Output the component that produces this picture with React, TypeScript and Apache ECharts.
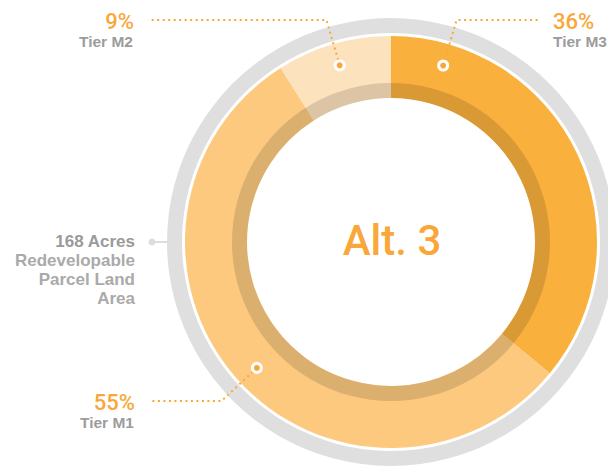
import React, { useEffect, useRef } from "react";
import * as echarts from "echarts";

// ---- data ----
const categories = ["Tier M3", "Tier M1", "Tier M2"];
const shares = [36, 55, 9];
const sliceColors = ["#FAB03D", "#FCC97F", "#FDE2BE"];
const centerTitle = "Alt. 3";
const acreageLines = ["168 Acres", "Redevelopable", "Parcel Land", "Area"];

// ---- layout ----
const W = 608;
const H = 468;
const CX = 391;
const CY = 242;
const R_RING: [number, number] = [209, 224];
const R_MAIN: [number, number] = [144, 206];
const R_SHADE: [number, number] = [144, 159];
const DOT_R = 184;
const anchorPos = [0.127, 0.491, 0.5];
const labelY = [20, 401, 20];
const labelX = [553, 135, 134];
const labelSide = ["right", "left", "left"];

const ORANGE = "#F9A73B";
const HEAD_FONT = "Roboto, 'Liberation Sans', Arial, sans-serif";
const LABEL_FONT = "'Liberation Sans', Arial, sans-serif";

function buildGraphics() {
  const total = shares.reduce((a, b) => a + b, 0);
  const els: any[] = [];
  let cum = 0;
  shares.forEach((v, i) => {
    const deg = ((cum + v * anchorPos[i]) / total) * 360;
    cum += v;
    const a = (deg * Math.PI) / 180;
    const sx = Math.sin(a);
    const cy = -Math.cos(a);
    const dx = CX + DOT_R * sx;
    const dy = CY + DOT_R * cy;
    const ly = labelY[i];
    const t = (ly - dy) / cy;
    const ex = dx + t * sx;
    const right = labelSide[i] === "right";
    const endX = right ? labelX[i] - 15 : labelX[i] + 14;
    els.push({
      type: "polyline",
      z: 10,
      silent: true,
      shape: { points: [[dx, dy], [ex, ly], [endX, ly]] },
      style: { stroke: ORANGE, lineWidth: 2, lineDash: [2, 3.5], fill: null },
    });
    els.push({
      type: "circle",
      z: 11,
      silent: true,
      shape: { cx: dx, cy: dy, r: 4.5 },
      style: { fill: ORANGE, stroke: "#ffffff", lineWidth: 3 },
    });
    const align = right ? "left" : "right";
    els.push({
      type: "text",
      z: 11,
      silent: true,
      x: labelX[i],
      y: ly + 1,
      style: {
        text: `${v}%`,
        fill: ORANGE,
        fontSize: 22,
        fontWeight: 500,
        fontFamily: HEAD_FONT,
        align,
        textAlign: align,
        verticalAlign: "middle",
        textVerticalAlign: "middle",
      },
    });
    els.push({
      type: "text",
      z: 11,
      silent: true,
      x: right ? labelX[i] : labelX[i] - 1,
      y: ly + 21,
      style: {
        text: categories[i],
        fill: "#9C9C9C",
        fontSize: 15.5,
        fontWeight: "bold",
        fontFamily: LABEL_FONT,
        align,
        textAlign: align,
        verticalAlign: "middle",
        textVerticalAlign: "middle",
      },
    });
  });

  // centre title
  els.push({
    type: "text",
    z: 11,
    silent: true,
    x: CX + 1,
    y: CY - 2,
    style: {
      text: centerTitle,
      fill: ORANGE,
      fontSize: 42,
      fontWeight: 500,
      fontFamily: HEAD_FONT,
      align: "center",
      textAlign: "center",
      verticalAlign: "middle",
      textVerticalAlign: "middle",
    },
  });

  // acreage note on the left
  const noteY = CY - 1;
  els.push({
    type: "line",
    z: 10,
    silent: true,
    shape: { x1: 152, y1: CY, x2: CX - R_RING[1] + 1, y2: CY },
    style: { stroke: "#DDDDDD", lineWidth: 2 },
  });
  els.push({
    type: "circle",
    z: 10,
    silent: true,
    shape: { cx: 152, cy: CY, r: 3.5 },
    style: { fill: "#DDDDDD" },
  });
  acreageLines.forEach((line, j) => {
    els.push({
      type: "text",
      z: 11,
      silent: true,
      x: 135,
      y: noteY + j * 19,
      style: {
        text: line,
        fill: j === 0 ? "#9A9A9A" : "#AAAAAA",
        fontSize: 17,
        fontWeight: "bold",
        fontFamily: LABEL_FONT,
        align: "right",
        textAlign: "right",
        verticalAlign: "middle",
        textVerticalAlign: "middle",
      },
    });
  });
  return els;
}

export default function App() {
  const ref = useRef<HTMLDivElement>(null);
  useEffect(() => {
    if (!ref.current) return;
    const chart = echarts.init(ref.current, undefined, { renderer: "svg" });
    chart.setOption({
      animation: false,
      backgroundColor: "#ffffff",
      series: [
        {
          type: "pie",
          silent: true,
          center: [CX, CY],
          radius: R_RING,
          label: { show: false },
          labelLine: { show: false },
          data: [{ value: 1, name: "ring", itemStyle: { color: "#DFDFDF" } }],
        },
        {
          type: "pie",
          silent: true,
          center: [CX, CY],
          radius: R_MAIN,
          startAngle: 90,
          clockwise: true,
          label: { show: false },
          labelLine: { show: false },
          data: categories.map((c, i) => ({
            name: c,
            value: shares[i],
            itemStyle: { color: sliceColors[i] },
          })),
        },
        {
          type: "pie",
          silent: true,
          center: [CX, CY],
          radius: R_SHADE,
          label: { show: false },
          labelLine: { show: false },
          data: [{ value: 1, name: "shade", itemStyle: { color: "rgba(0,0,0,0.13)" } }],
        },
      ],
      graphic: buildGraphics(),
    });
    return () => chart.dispose();
  }, []);
  return (
    <div
      ref={ref}
      style={{ position: "fixed", left: 0, top: 0, width: W, height: H }}
    />
  );
}
